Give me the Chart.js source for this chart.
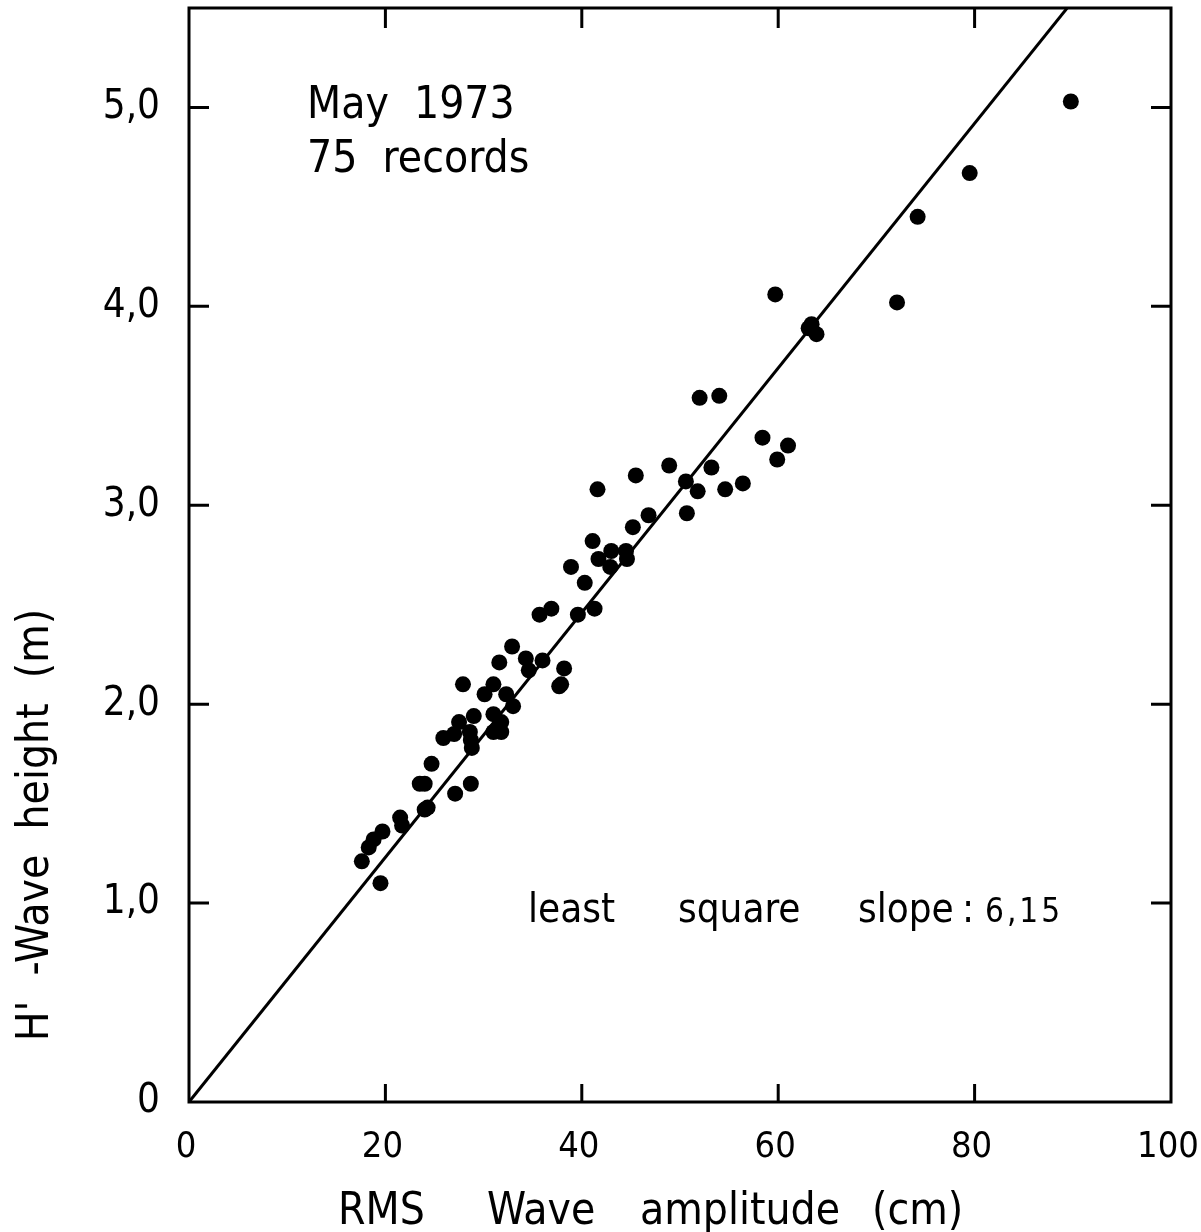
<!DOCTYPE html>
<html>
<head>
<meta charset="utf-8">
<title>Wave height vs RMS amplitude</title>
<script src="https://cdn.jsdelivr.net/npm/chart.js@4.4.0/dist/chart.umd.min.js"></script>
<style>
  html, body { margin: 0; padding: 0; background: #fff; }
  #wrap { width: 1201px; height: 1232px; }
</style>
</head>
<body>
<div id="wrap"><canvas id="waveChart" width="1201" height="1232"></canvas></div>
<script>
// one entry per record: RMS wave amplitude (cm) and H' wave height (m)
var rmsAmplitude = [17.6, 19.5, 18.3, 18.8, 19.7, 21.5, 21.7, 24.0, 24.3, 23.5,
    24.0, 24.7, 25.9, 27.0, 27.5, 27.9, 27.1, 28.7, 28.6, 28.7,
    28.8, 29.0, 30.1, 31.0, 31.0, 31.0, 31.6, 31.8, 31.8, 32.3,
    32.9, 33.0, 34.3, 34.6, 35.7, 36.0, 36.9, 37.7, 37.9, 38.2,
    38.9, 39.6, 40.3, 41.1, 41.3, 41.6, 41.7, 43.0, 42.9, 44.5,
    44.6, 45.2, 45.5, 46.8, 48.9, 50.6, 50.7, 51.8, 52.0, 53.2,
    54.0, 54.6, 56.4, 58.4, 59.7, 59.9, 61.0, 63.1, 63.4, 63.9,
    72.1, 74.2, 79.5, 89.8];
var waveHeight = [1.21, 1.10, 1.28, 1.32, 1.36, 1.43, 1.39, 1.47, 1.48, 1.60,
    1.60, 1.70, 1.83, 1.85, 1.91, 2.10, 1.55, 1.60, 1.86, 1.82,
    1.78, 1.94, 2.05, 1.95, 1.86, 2.10, 2.21, 1.91, 1.86, 2.05,
    2.29, 1.99, 2.23, 2.17, 2.45, 2.22, 2.48, 2.09, 2.10, 2.18,
    2.69, 2.45, 2.61, 2.82, 2.48, 3.08, 2.73, 2.77, 2.69, 2.77,
    2.73, 2.89, 3.15, 2.95, 3.20, 3.12, 2.96, 3.07, 3.54, 3.19,
    3.55, 3.08, 3.11, 3.34, 4.06, 3.23, 3.30, 3.89, 3.91, 3.86,
    4.02, 4.45, 4.67, 5.03];

// least square slope: H (m) = slope * a (cm) / 100
var fitSlope = 6.15;

var xTicks = [0, 20, 40, 60, 80, 100];
var yTicks = [0, 1, 2, 3, 4, 5];
var xRange = [0, 100];
var yRange = [0, 5.5];

var FONT = "'Liberation Sans Narrow', 'DejaVu Sans Condensed', 'Liberation Sans', sans-serif";

var points = rmsAmplitude.map(function(a, i) {
    return { x: a, y: waveHeight[i] };
});
var fitLine = [
    { x: xRange[0], y: fitSlope * xRange[0] / 100 },
    { x: xRange[1], y: fitSlope * xRange[1] / 100 }
];

function fmtHeight(v) {
    return v === 0 ? '0' : v.toFixed(1).replace('.', ',');
}

// keep the scales from reserving room for overhanging labels
function fixScale(size) {
    return function(s) {
        if (s.isHorizontal()) s.height = size; else s.width = size;
        s.paddingTop = 0;
        s.paddingBottom = 0;
        s.paddingLeft = 0;
        s.paddingRight = 0;
    };
}

// box round the plot, inward tick marks and the hand-lettered texts
var framePlugin = {
    id: 'frame',
    afterDraw: function(chart) {
        var ctx = chart.ctx;
        var area = chart.chartArea;
        var xs = chart.scales.x;
        var ys = chart.scales.y;

        ctx.save();
        ctx.strokeStyle = '#000';
        ctx.lineWidth = 3;
        ctx.strokeRect(area.left, area.top, area.right - area.left, area.bottom - area.top);

        ctx.beginPath();
        xTicks.forEach(function(v) {
            if (v === xRange[0] || v === xRange[1]) return;
            var px = xs.getPixelForValue(v);
            ctx.moveTo(px, area.bottom);
            ctx.lineTo(px, area.bottom - 18);
            ctx.moveTo(px, area.top);
            ctx.lineTo(px, area.top + 20);
        });
        yTicks.forEach(function(v) {
            if (v === yRange[0]) return;
            var py = ys.getPixelForValue(v);
            ctx.moveTo(area.left, py);
            ctx.lineTo(area.left + 20, py);
            ctx.moveTo(area.right, py);
            ctx.lineTo(area.right - 20, py);
        });
        ctx.stroke();

        ctx.fillStyle = '#000';
        ctx.textBaseline = 'alphabetic';
        ctx.textAlign = 'left';
        ctx.font = '44px ' + FONT;
        ctx.fillText('May  1973', 307, 118);
        ctx.fillText('75  records', 307, 172);

        ctx.font = '40px ' + FONT;
        ctx.fillText('least', 528, 922);
        ctx.fillText('square', 678, 922);
        ctx.fillText('slope', 858, 922);
        ctx.fillText(':', 962, 922);
        ctx.font = '33px ' + FONT;
        ctx.letterSpacing = '3px';
        ctx.fillText(fitSlope.toFixed(2).replace('.', ','), 985, 922);
        ctx.letterSpacing = '0px';

        // axis titles
        ctx.font = '44px ' + FONT;
        ctx.fillText('RMS', 338, 1224);
        ctx.fillText('Wave', 487, 1224);
        ctx.fillText('amplitude', 640, 1224);
        ctx.fillText('(cm)', 872, 1224);

        ctx.textAlign = 'center';
        ctx.translate(48, 825);
        ctx.rotate(-Math.PI / 2);
        ctx.fillText("H'  -Wave  height  (m)", 0, 0);
        ctx.restore();
    }
};

var ctx = document.getElementById('waveChart').getContext('2d');
new Chart(ctx, {
    type: 'scatter',
    data: {
        datasets: [
            {
                label: 'records',
                data: points,
                backgroundColor: '#000',
                borderColor: '#000',
                borderWidth: 0,
                pointRadius: 8
            },
            {
                type: 'line',
                label: 'least square fit',
                data: fitLine,
                borderColor: '#000',
                borderWidth: 3,
                pointRadius: 0,
                fill: false
            }
        ]
    },
    options: {
        responsive: false,
        animation: false,
        devicePixelRatio: 1,
        layout: { padding: { top: 8, right: 30, left: 0, bottom: 0 } },
        plugins: {
            legend: { display: false },
            tooltip: { enabled: false }
        },
        scales: {
            x: {
                type: 'linear',
                min: xRange[0],
                max: xRange[1],
                afterFit: fixScale(130),
                afterBuildTicks: function(s) {
                    s.ticks = xTicks.map(function(v) { return { value: v }; });
                },
                grid: { display: false, drawTicks: false },
                border: { display: false },
                ticks: {
                    padding: 24,
                    color: '#000',
                    font: { family: FONT, size: 36 },
                    labelOffset: -3,
                    callback: function(v) { return String(v); }
                }
            },
            y: {
                type: 'linear',
                min: yRange[0],
                max: yRange[1],
                afterFit: fixScale(189),
                afterBuildTicks: function(s) {
                    s.ticks = yTicks.map(function(v) { return { value: v }; });
                },
                grid: { display: false, drawTicks: false },
                border: { display: false },
                ticks: {
                    padding: 29,
                    color: '#000',
                    font: { family: FONT, size: 40 },
                    callback: function(v) { return fmtHeight(v); }
                }
            }
        }
    },
    plugins: [framePlugin]
});
</script>
</body>
</html>
